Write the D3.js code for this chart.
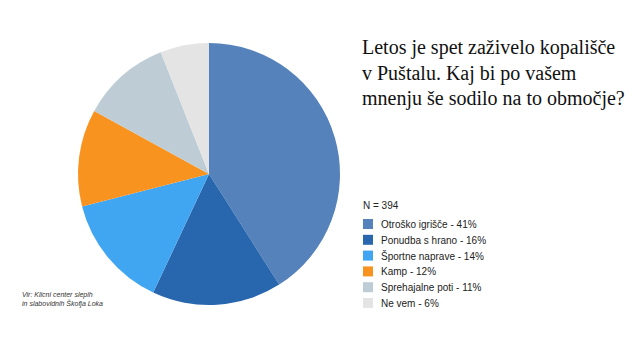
<!DOCTYPE html>
<html><head><meta charset="utf-8">
<script src="https://cdn.jsdelivr.net/npm/d3@7/dist/d3.min.js"></script>
<style>body{margin:0;background:#fff}svg{display:block}</style>
</head><body>
<svg id="c" width="640" height="360"></svg>
<script>
const categories = ["Otroško igrišče", "Ponudba s hrano", "Športne naprave", "Kamp", "Sprehajalne poti", "Ne vem"];
const values = [41, 16, 14, 12, 11, 6];
const colors = ["#5582BA", "#2866AE", "#41A6F1", "#F7931E", "#BECCD5", "#E4E4E5"];
const titleLines = ["Letos je spet zaživelo kopališče", "v Puštalu. Kaj bi po vašem", "mnenju še sodilo na to območje?"];
const nLabel = "N = 394";
const sourceLines = ["Vir: Klicni center slepih", "in slabovidnih Škofja Loka"];

const svg = d3.select("#c");
const cx = 209, cy = 174, r = 131;
const pie = d3.pie().sort(null).value(d => d)(values);
const arc = d3.arc().innerRadius(0).outerRadius(r);
svg.append("g").attr("transform", `translate(${cx},${cy})`)
  .selectAll("path").data(pie).join("path")
  .attr("d", arc).attr("fill", (d, i) => colors[i]);

svg.append("g").selectAll("text").data(titleLines).join("text")
  .attr("x", 362).attr("y", (d, i) => 54 + i * 25.5)
  .attr("font-family", "'Liberation Serif', 'DejaVu Serif', serif")
  .attr("font-size", 20).attr("fill", "#111").text(d => d);

svg.append("text").attr("x", 363).attr("y", 208.5)
  .attr("font-family", "'Liberation Sans', Arial, sans-serif")
  .attr("font-size", 10).attr("fill", "#222").text(nLabel);

const lg = svg.append("g").selectAll("g").data(categories).join("g")
  .attr("transform", (d, i) => `translate(363, ${219 + i * 15.8})`);
lg.append("rect").attr("width", 10).attr("height", 10).attr("fill", (d, i) => colors[i]);
lg.append("text").attr("x", 18).attr("y", 9)
  .attr("font-family", "'Liberation Sans', Arial, sans-serif")
  .attr("font-size", 10).attr("fill", "#222")
  .text((d, i) => `${d} - ${values[i]}%`);

svg.append("g").selectAll("text").data(sourceLines).join("text")
  .attr("x", 22).attr("y", (d, i) => 297 + i * 9)
  .attr("font-family", "'Liberation Sans', Arial, sans-serif")
  .attr("font-style", "italic").attr("font-size", 7).attr("fill", "#333")
  .text(d => d);
</script>
</body></html>
